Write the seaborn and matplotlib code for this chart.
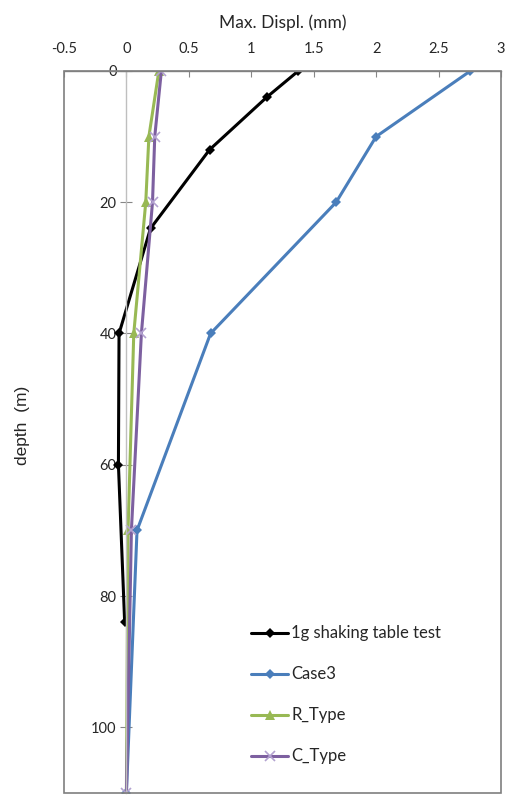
from matplotlib import pyplot as plt
from matplotlib.patches import Rectangle
import pandas as pd
import seaborn as sns

# depth (m) and max. displacement (mm) per series
depth_test = [0, 4, 12, 24, 40, 60, 84]
displ_test = [1.377, 1.124, 0.666, 0.193, -0.059, -0.064, -0.014]

depth_case3 = [0, 10, 20, 40, 70, 110]
displ_case3 = [2.755, 2.0, 1.68, 0.674, 0.085, 0.0]

depth_r = [0, 10, 20, 40, 70, 110]
displ_r = [0.26, 0.18, 0.155, 0.059, 0.013, 0.0]

depth_c = [0, 10, 20, 40, 70, 110]
displ_c = [0.28, 0.227, 0.209, 0.12, 0.04, 0.0]

x_ticks = [-0.5, 0, 0.5, 1, 1.5, 2, 2.5, 3]
x_labels = ["-0.5", "0", "0.5", "1", "1.5", "2", "2.5", "3"]
y_ticks = [0, 20, 40, 60, 80, 100]

series = [
    ("1g shaking table test", depth_test, displ_test, "#000000", "D", "#000000", 5),
    ("Case3", depth_case3, displ_case3, "#4a7ebb", "D", "#4a7ebb", 5),
    ("R_Type", depth_r, displ_r, "#98b954", "^", "#98b954", 7),
    ("C_Type", depth_c, displ_c, "#7d60a0", "x", "#b3a2d0", 7),
]

sns.set_style("white")
plt.rcParams["font.family"] = ["Lato", "DejaVu Sans"]

fig = plt.figure(figsize=(5.07, 7.98), dpi=100)
ax = fig.add_axes([0.1262, 0.0063, 0.8619, 0.9048])

for name, d, v, col, mk, mcol, ms in series:
    df = pd.DataFrame({"depth": d, "displ": v})
    sns.lineplot(data=df, x="displ", y="depth", orient="y", estimator=None,
                 color=col, marker=mk, markersize=ms, markeredgecolor=mcol,
                 markerfacecolor=mcol, markeredgewidth=1.2 if mk == "x" else 0,
                 linewidth=2.2, label=name, ax=ax)

ax.set_xlim(-0.5, 3.0)
ax.set_ylim(110, 0)

# excel style axes: y axis sits at x=0, x axis on top
ax.spines["left"].set_position(("data", 0))
ax.spines["left"].set_color("#bfbfbf")
ax.spines["left"].set_linewidth(1.0)
ax.spines["top"].set_color("#868686")
ax.spines["top"].set_linewidth(1.0)
ax.spines["right"].set_visible(False)
ax.spines["bottom"].set_visible(False)
ax.add_patch(Rectangle((0, 0), 1, 1, transform=ax.transAxes, fill=False,
                       edgecolor="#7f7f7f", linewidth=1.2, zorder=5,
                       clip_on=False))

ax.xaxis.tick_top()
ax.xaxis.set_label_position("top")
ax.set_xticks(x_ticks)
ax.set_xticklabels(x_labels)
ax.set_yticks(y_ticks)
ax.tick_params(axis="x", direction="in", length=4, width=0.8, color="#868686",
               pad=11, labelsize=10.5, top=True, bottom=False)
ax.tick_params(axis="y", direction="inout", length=8, width=0.8, color="#868686",
               pad=3, labelsize=10.5, left=True)

ax.set_xlabel("Max. Displ. (mm)", fontsize=12.5, labelpad=10)
ax.set_ylabel("")
fig.text(0.045, 0.467, "depth  (m)", rotation=90, fontsize=12.5, va="center",
         ha="center", family=["Liberation Sans", "DejaVu Sans"])

ax.legend(frameon=False, loc="upper left", bbox_to_anchor=(0.466, 0.235),
          bbox_transform=fig.transFigure, fontsize=12, labelspacing=1.5,
          handlelength=2.2, handletextpad=0.2)

fig.savefig("out.png", dpi=100)
